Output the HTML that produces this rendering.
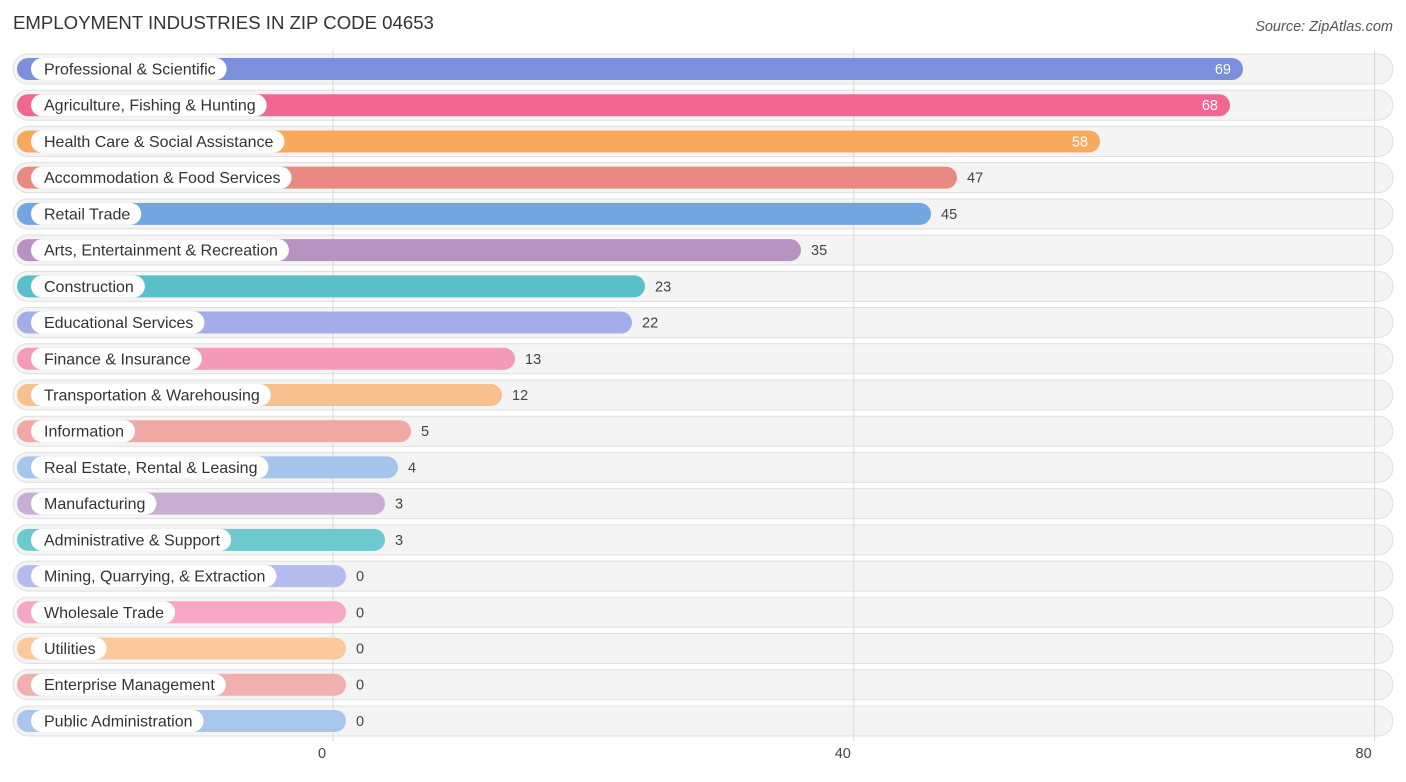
<!DOCTYPE html>
<html><head><meta charset="utf-8"><style>
body{margin:0;background:#fff;font-family:"Liberation Sans",sans-serif;}
svg text{font-family:"Liberation Sans",sans-serif;}
</style></head><body>
<svg id="c" width="1406" height="777" xmlns="http://www.w3.org/2000/svg">
<text x="13" y="29" font-size="18.6" fill="#333">EMPLOYMENT INDUSTRIES IN ZIP CODE 04653</text>
<text x="1393" y="31" font-size="14.5" fill="#555" font-style="italic" text-anchor="end">Source: ZipAtlas.com</text>
<g id="bgs"></g><g id="grid"></g><g id="rows"></g>
</svg>
<script>
const categories=["Professional & Scientific","Agriculture, Fishing & Hunting","Health Care & Social Assistance","Accommodation & Food Services","Retail Trade","Arts, Entertainment & Recreation","Construction","Educational Services","Finance & Insurance","Transportation & Warehousing","Information","Real Estate, Rental & Leasing","Manufacturing","Administrative & Support","Mining, Quarrying, & Extraction","Wholesale Trade","Utilities","Enterprise Management","Public Administration"];
const values=[69,68,58,47,45,35,23,22,13,12,5,4,3,3,0,0,0,0,0];
const colors=["#7b8fdc","#f06892","#f7aa5e","#e88a82","#72a6e0","#b793c2","#5bbfc9","#a3aee8","#f59ab8","#f8c08d","#f0a9a4","#a5c5ec","#c9aed3","#6ccacf","#b3bcec","#f7a6c4","#fbc99a","#f1b0ad","#a8c6ec"];
const ticks=[0,40,80];
const NS="http://www.w3.org/2000/svg";
function mk(t,a,p){const e=document.createElementNS(NS,t);for(const k in a)e.setAttribute(k,a[k]);p.appendChild(e);return e;}
const gx=v=>333+v*13.02;
const bx=v=>346+v*13.0;
const ry=i=>69+i*36.22;
const bgs=document.getElementById('bgs'),grid=document.getElementById('grid'),rows=document.getElementById('rows');
ticks.forEach(t=>{
 const l=mk('line',{x1:gx(t),x2:gx(t),y1:50,y2:742,stroke:'#d8d8d8','stroke-width':1},grid);
 
 
 const tx=mk('text',{x:gx(t)-11,y:758,'font-size':14.5,fill:'#444','text-anchor':'middle'},grid);
 tx.textContent=t;
 
 
});
categories.forEach((c,i)=>{
 const y=ry(i);
 const bg=mk('rect',{x:13,y:y-15,width:1380,height:30,rx:15,fill:'#f4f4f4',stroke:'#e0e0e0','stroke-width':1},bgs);
 
 
 const g=mk('g',{},rows);
 
 
 const ex=bx(values[i]);
 const b=mk('rect',{x:17,y:y-11,width:ex-17,height:22,rx:11,fill:colors[i]},g);
 
 
 const p=mk('rect',{x:31,y:y-11,width:100,height:22,rx:11,fill:'#fff'},g);
 
 
 const lt=mk('text',{x:44,y:y+5.5,'font-size':16,fill:'#333'},g);
 lt.textContent=c;
 
 
 p.setAttribute('width',lt.getComputedTextLength()+24);
 const inside=values[i]>=50;
 const vt=mk('text',{x:inside?ex-12:ex+10,y:y+5,'font-size':14.5,fill:inside?'#fff':'#444','text-anchor':inside?'end':'start'},g);
 vt.textContent=values[i];
 
 
});
</script>
</body></html>
